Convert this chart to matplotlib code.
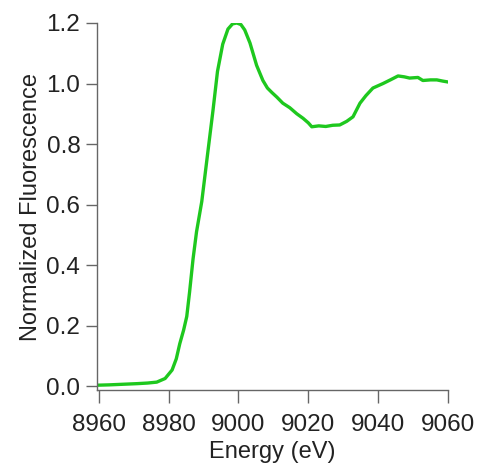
import matplotlib
matplotlib.use("Agg")
import matplotlib.pyplot as plt

plt.rcParams['font.family'] = ['Liberation Sans', 'DejaVu Sans']

# XANES scan
energy = [8960, 8963, 8967, 8971, 8974, 8976.6, 8979, 8981, 8982.2, 8983.2,
          8984.3, 8985.2, 8986, 8987, 8988, 8989.5, 8991.2, 8992.7, 8994,
          8995.5, 8997, 8998.3, 8999.5, 9000.7, 9001.8, 9003.3, 9005.2, 9007,
          9008.3, 9009.6, 9011, 9012.7, 9014.7, 9016.7, 9018.5, 9020, 9021,
          9023, 9025, 9027, 9029, 9031, 9032.8, 9034.8, 9036.5, 9038.5, 9041.4,
          9043.5, 9045.7, 9047.5, 9049, 9051.4, 9052.8, 9055, 9056.8, 9058.5, 9060]
fluor = [0.003, 0.004, 0.006, 0.008, 0.010, 0.013, 0.025, 0.053, 0.09, 0.14,
         0.185, 0.23, 0.31, 0.42, 0.51, 0.61, 0.77, 0.91, 1.04,
         1.13, 1.18, 1.197, 1.20, 1.195, 1.177, 1.134, 1.06, 1.01,
         0.985, 0.97, 0.955, 0.935, 0.92, 0.90, 0.885, 0.87, 0.857,
         0.86, 0.858, 0.862, 0.863, 0.875, 0.89, 0.935, 0.96, 0.985, 1.0,
         1.012, 1.025, 1.022, 1.018, 1.02, 1.01, 1.012, 1.012, 1.008, 1.005]

xticks = [8960, 8980, 9000, 9020, 9040, 9060]
yticks = [0.0, 0.2, 0.4, 0.6, 0.8, 1.0, 1.2]

fig = plt.figure(figsize=(4.79, 4.65), dpi=100)
ax = fig.add_axes([97 / 479, 1 - 390 / 465, (448 - 97) / 479, (390 - 23) / 465])

ax.plot(energy, fluor, color='#1ec81e', lw=2.4)

ax.set_xlim(8959.5, 9060)
ax.set_ylim(-0.013, 1.2)
ax.set_xticks(xticks)
ax.set_yticks(yticks)
ax.set_yticklabels([f"{v:.1f}" for v in yticks])

for side in ['top', 'right']:
    ax.spines[side].set_visible(False)
for side in ['left', 'bottom']:
    ax.spines[side].set_color('#666666')
    ax.spines[side].set_linewidth(1.0)

ax.tick_params(axis='both', colors='#666666', labelcolor='#222222',
               labelsize=17.5, length=8, width=1.0)
ax.tick_params(axis='x', pad=8, length=9)
ax.tick_params(axis='y', pad=4)

ax.set_xlabel("Energy (eV)", fontsize=17, color='#222222', labelpad=4)
ax.set_ylabel("Normalized Fluorescence", fontsize=17, color='#222222', labelpad=3)

fig.savefig("out.png", dpi=100)
